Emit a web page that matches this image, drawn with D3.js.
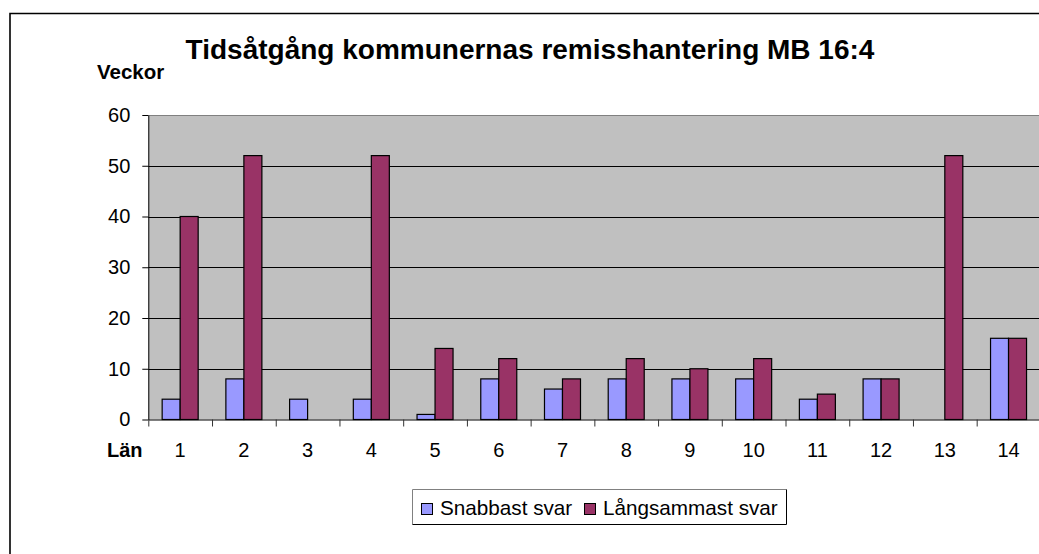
<!DOCTYPE html>
<html>
<head>
<meta charset="utf-8">
<script src="https://cdn.jsdelivr.net/npm/d3@7"></script>
<style>
  body { margin: 0; background: #fff; }
  svg { display: block; font-family: Arial, "Liberation Sans", sans-serif; }
</style>
</head>
<body>
<svg id="board"></svg>
<script>
let lan = [1, 2, 3, 4, 5, 6, 7, 8, 9, 10, 11, 12, 13, 14]
let snabbast = [4, 8, 4, 4, 1, 8, 6, 8, 8, 8, 4, 8, 0, 16]
let langsammast = [40, 52, 0, 52, 14, 12, 8, 12, 10, 12, 5, 8, 52, 16]
let yTicks = [0, 10, 20, 30, 40, 50, 60]
let seriesNames = ['Snabbast svar', 'Långsammast svar']
let seriesColors = ['#9999ff', '#993366']

let width = 1039
let height = 554
let plotLeft = 148.3
let plotRight = 1040.4
let plotTop = 115
let plotBottom = 419.5

let board = d3.select('#board')
    .attr('width', width)
    .attr('height', height)

// outer chart border (cut at right and bottom)
board.append('path')
    .attr('d', 'M10,' + height + 'V13.5H' + width)
    .attr('fill', 'none')
    .attr('stroke', '#000')
    .attr('stroke-width', 1.6)

let xScale = d3.scaleBand()
    .domain(lan)
    .range([plotLeft, plotRight])
    .paddingInner(0.435)
    .paddingOuter(0.2175)

let xEdges = d3.scaleLinear()
    .domain([0, lan.length])
    .range([plotLeft, plotRight])

let inner = d3.scaleBand()
    .domain([0, 1])
    .range([0, xScale.bandwidth()])

let yScale = d3.scaleLinear()
    .domain([0, 60])
    .range([plotBottom, plotTop])

// plot background
board.append('rect')
    .attr('x', plotLeft)
    .attr('y', plotTop)
    .attr('width', plotRight - plotLeft)
    .attr('height', plotBottom - plotTop)
    .attr('fill', '#c0c0c0')

// grid lines
board.append('g')
    .selectAll('line')
    .data(yTicks.filter(d => d > 0 && d < 60))
    .enter()
    .append('line')
    .attr('x1', plotLeft)
    .attr('x2', plotRight)
    .attr('y1', d => Math.round(yScale(d)) + 0.5)
    .attr('y2', d => Math.round(yScale(d)) + 0.5)
    .attr('stroke', '#000')

board.append('line')
    .attr('x1', plotLeft).attr('x2', plotRight)
    .attr('y1', plotTop + 0.5).attr('y2', plotTop + 0.5)
    .attr('stroke', '#808080')

// bars
let rows = lan.map((c, i) => ({ lan: c, values: [snabbast[i], langsammast[i]] }))
let groups = board.append('g')
    .selectAll('g')
    .data(rows)
    .enter()
    .append('g')
    .attr('transform', d => 'translate(' + xScale(d.lan) + ',0)')

groups.selectAll('rect')
    .data(d => d.values.map((v, k) => ({ v: v, k: k })).filter(e => e.v > 0))
    .enter()
    .append('rect')
    .attr('x', d => inner(d.k))
    .attr('width', inner.bandwidth())
    .attr('y', d => yScale(d.v))
    .attr('height', d => yScale(0) - yScale(d.v))
    .attr('fill', d => seriesColors[d.k])
    .attr('stroke', '#000')
    .attr('stroke-width', 1.2)

// y axis
let yAxis = d3.axisLeft(yScale)
    .tickValues(yTicks)
    .tickSize(6)
    .tickSizeOuter(0)
    .tickPadding(12)
board.append('g')
    .attr('transform', 'translate(' + plotLeft + ',0)')
    .call(yAxis)
    .call(g => g.selectAll('text').attr('font-size', 20).attr('fill', '#000'))
    .call(g => g.select('.domain').attr('stroke', '#000'))
    .attr('font-family', null)

// x axis: boundary ticks
let xEdgeAxis = d3.axisBottom(xEdges)
    .tickValues(d3.range(lan.length + 1))
    .tickFormat('')
    .tickSize(7)
    .tickSizeOuter(0)
board.append('g')
    .attr('transform', 'translate(0,' + plotBottom + ')')
    .call(xEdgeAxis)
    .call(g => g.selectAll('.tick line').attr('stroke', '#333'))
    .call(g => g.select('.domain').attr('stroke', '#000').attr('stroke-width', 1.2))

// x axis: labels
let xAxis = d3.axisBottom(xScale)
    .tickSize(0)
    .tickPadding(23)
board.append('g')
    .attr('transform', 'translate(0,' + plotBottom + ')')
    .call(xAxis)
    .call(g => g.select('.domain').remove())
    .call(g => g.selectAll('text').attr('font-size', 20).attr('fill', '#000'))
    .attr('font-family', null)

// titles
board.append('text')
    .attr('x', 530)
    .attr('y', 59)
    .attr('text-anchor', 'middle')
    .attr('font-size', 28)
    .attr('font-weight', 'bold')
    .text('Tidsåtgång kommunernas remisshantering MB 16:4')

board.append('text')
    .attr('x', 97)
    .attr('y', 79)
    .attr('font-size', 20.5)
    .attr('font-weight', 'bold')
    .text('Veckor')

board.append('text')
    .attr('x', 107)
    .attr('y', 457)
    .attr('font-size', 20)
    .attr('font-weight', 'bold')
    .text('Län')

// legend
let legend = board.append('g')
legend.append('rect')
    .attr('x', 412.5).attr('y', 489.5)
    .attr('width', 374).attr('height', 35)
    .attr('fill', '#fff')
legend.append('path')
    .attr('d', 'M412.5,524.5V489.5H786.5')
    .attr('fill', 'none').attr('stroke', '#808080')
legend.append('path')
    .attr('d', 'M786.5,489.5V524.5H412.5')
    .attr('fill', 'none').attr('stroke', '#000')

let legendX = [421, 584]
let items = legend.selectAll('g.item')
    .data(seriesNames)
    .enter()
    .append('g')
    .attr('class', 'item')
    .attr('transform', (d, i) => 'translate(' + legendX[i] + ',0)')
items.append('rect')
    .attr('x', 0.5).attr('y', 503.5)
    .attr('width', 11).attr('height', 11)
    .attr('fill', (d, i) => seriesColors[i])
    .attr('stroke', '#000')
items.append('text')
    .attr('x', 19)
    .attr('y', 514.5)
    .attr('font-size', 20.7)
    .text(d => d)
</script>
</body>
</html>
